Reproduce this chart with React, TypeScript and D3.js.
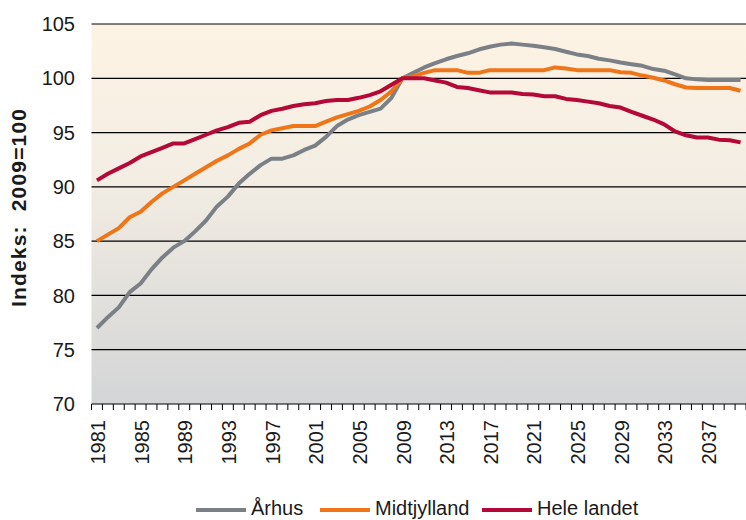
import * as d3 from "d3";

const years = d3.range(1981, 2041);

const aarhus = [
  77.0, 78.0, 78.9, 80.3, 81.1, 82.4, 83.5, 84.4, 85.0, 85.9,
  86.9, 88.2, 89.1, 90.3, 91.2, 92.0, 92.6, 92.6, 92.9, 93.4,
  93.8, 94.6, 95.6, 96.2, 96.6, 96.9, 97.2, 98.2, 100.0, 100.5,
  101.0, 101.4, 101.75, 102.05, 102.3, 102.65, 102.9, 103.1, 103.2, 103.1,
  103.0, 102.85, 102.7, 102.45, 102.2, 102.05, 101.8, 101.65, 101.45, 101.3,
  101.15, 100.85, 100.7, 100.35, 100.0, 99.9, 99.85, 99.85, 99.85, 99.85,
];

const midtjylland = [
  85.0, 85.6, 86.2, 87.2, 87.7, 88.6, 89.4, 90.0, 90.6, 91.2,
  91.8, 92.4, 92.9, 93.5, 94.0, 94.8, 95.2, 95.4, 95.6, 95.6,
  95.6, 96.0, 96.4, 96.7, 97.0, 97.4, 98.0, 98.8, 100.0, 100.2,
  100.5, 100.75, 100.75, 100.75, 100.5, 100.5, 100.75, 100.75, 100.75, 100.75,
  100.75, 100.75, 101.0, 100.9, 100.75, 100.75, 100.75, 100.75, 100.55, 100.5,
  100.25, 100.05, 99.8, 99.45, 99.15, 99.1, 99.1, 99.1, 99.1, 98.85,
];

const heleLandet = [
  90.6, 91.2, 91.7, 92.2, 92.8, 93.2, 93.6, 94.0, 94.0, 94.4,
  94.8, 95.2, 95.5, 95.9, 96.0, 96.6, 97.0, 97.2, 97.45, 97.6,
  97.7, 97.9, 98.0, 98.0, 98.2, 98.45, 98.8, 99.4, 100.0, 100.0,
  100.0, 99.8, 99.6, 99.2, 99.1, 98.9, 98.7, 98.7, 98.7, 98.55,
  98.5, 98.35, 98.35, 98.1, 98.0, 97.85, 97.7, 97.45, 97.3, 96.9,
  96.55, 96.2, 95.75, 95.1, 94.75, 94.55, 94.55, 94.35, 94.3, 94.1,
];

const yTicks = [70, 75, 80, 85, 90, 95, 100, 105];
const xLabelYears = years.filter((y) => (y - 1981) % 4 === 0);

const series = [
  { name: "Århus", values: aarhus, color: "#7a8085" },
  { name: "Midtjylland", values: midtjylland, color: "#f07518" },
  { name: "Hele landet", values: heleLandet, color: "#b30838" },
];

const W = 746;
const H = 520;
const left = 91.5;
const right = 746;
const top = 24;
const bottom = 404;
const font = "'Liberation Sans', Arial, sans-serif";

export default function App() {
  const x = d3.scaleBand<number>().domain(years).range([left, right]).padding(0);
  const y = d3.scaleLinear().domain([70, 105]).range([bottom, top]);
  const bw = x.bandwidth();
  const cx = (yr: number) => (x(yr) ?? 0) + bw / 2;

  const line = d3
    .line<number>()
    .x((_, i) => cx(years[i]))
    .y((d) => y(d));

  // legend: x of each swatch
  const legendX = [196, 320, 482];

  return (
    <svg
      width={W}
      height={H}
      style={{ position: "absolute", left: 0, top: 0 }}
      fontFamily={font}
    >
      <defs>
        <linearGradient id="bg" x1="0" y1="0" x2="0" y2="1">
          <stop offset="0%" stopColor="#fdf3e4" />
          <stop offset="40%" stopColor="#f3ede3" />
          <stop offset="100%" stopColor="#d3d5d6" />
        </linearGradient>
        <clipPath id="plot">
          <rect x={left} y={top - 4} width={right - left} height={bottom - top + 4} />
        </clipPath>
      </defs>
      <rect width={W} height={H} fill="#ffffff" />
      <rect x={left} y={top} width={right - left} height={bottom - top} fill="url(#bg)" />

      {yTicks.map((t) => (
        <g key={t}>
          <line x1={left} x2={right} y1={y(t)} y2={y(t)} stroke="#000" strokeWidth={1.2} />
          <text x={75} y={y(t)} dy="0.36em" textAnchor="end" fontSize={20} fill="#1a1a1a">
            {t}
          </text>
        </g>
      ))}

      {d3.range(years.length + 1).map((i) => {
        const xx = left + i * bw;
        return <line key={i} x1={xx} x2={xx} y1={bottom} y2={bottom + 6} stroke="#000" strokeWidth={1} />;
      })}

      {xLabelYears.map((yr) => (
        <text
          key={yr}
          transform={`translate(${cx(yr) + 1},${420}) rotate(-90)`}
          dy="0.36em"
          textAnchor="end"
          fontSize={20}
          fill="#1a1a1a"
        >
          {yr}
        </text>
      ))}

      <text
        transform={`translate(18,208) rotate(-90)`}
        dy="0.36em"
        textAnchor="middle"
        fontSize={21}
        fontWeight="bold"
        fill="#1a1a1a"
        textLength={198}
        lengthAdjust="spacing"
        style={{ whiteSpace: "pre" }}
      >
        {"Indeks:  2009=100"}
      </text>

      <g clipPath="url(#plot)">
        {series.map((s) => (
          <path
            key={s.name}
            d={line(s.values) ?? ""}
            fill="none"
            stroke={s.color}
            strokeWidth={4}
            strokeLinejoin="round"
          />
        ))}
      </g>

      {series.map((s, i) => (
        <g key={s.name} transform={`translate(${legendX[i]},510)`}>
          <line x1={0} x2={50} y1={0} y2={0} stroke={s.color} strokeWidth={4} />
          <text x={55} y={5} fontSize={20} fill="#1a1a1a">
            {s.name}
          </text>
        </g>
      ))}
    </svg>
  );
}
